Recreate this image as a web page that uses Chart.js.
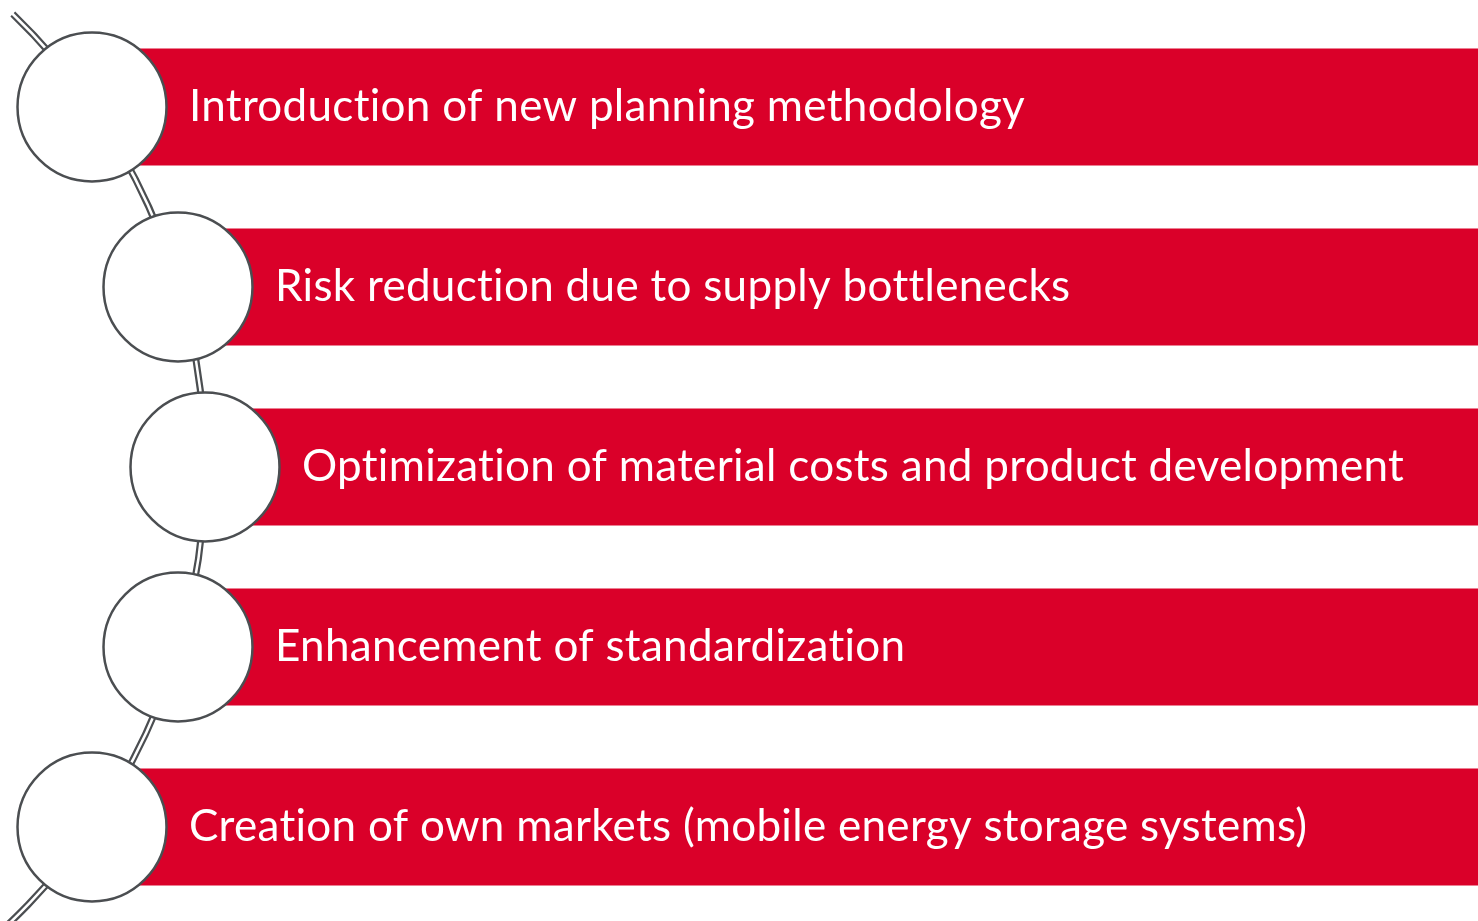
<!DOCTYPE html>
<html>
<head>
<meta charset="utf-8">
<title>Vertical curved list</title>
<script src="https://cdn.jsdelivr.net/npm/chart.js@4.4.1/dist/chart.umd.min.js"></script>
<style>
    html, body { margin: 0; padding: 0; background: #ffffff; }
    #wrap { width: 1478px; height: 921px; position: relative; }
</style>
</head>
<body>
<div id="wrap"><canvas id="listChart"></canvas></div>
<script>
// Items of the list, top to bottom
const steps = [
    'Introduction of new planning methodology',
    'Risk reduction due to supply bottlenecks',
    'Optimization of material costs and product development',
    'Enhancement of standardization',
    'Creation of own markets (mobile energy storage systems)'
];
// Where each bar begins (the centre of its circle)
const barFrom = [92, 178, 205, 178, 92];
const barTo = [1478, 1478, 1478, 1478, 1478];

const RED = '#DA0029';
const GREY = '#4b4e51';

// Draws the curved double line, the circles and the labels
const curvedListPlugin = {
    id: 'curvedList',
    beforeDatasetsDraw(chart) {
        const ctx = chart.ctx;
        const x = chart.scales.x, y = chart.scales.y;
        // circle through first, middle and last node
        const p1 = { x: x.getPixelForValue(barFrom[0]), y: y.getPixelForValue(0) };
        const mid = Math.floor(barFrom.length / 2);
        const pm = { x: x.getPixelForValue(barFrom[mid]), y: y.getPixelForValue(mid) };
        const cy = pm.y;
        const cx = (p1.x * p1.x + (p1.y - cy) * (p1.y - cy) - pm.x * pm.x) / (2 * (p1.x - pm.x));
        const r = pm.x - cx;
        const top = Math.asin((14 - cy) / r);
        const bottom = Math.asin((chart.height + 10 - cy) / r);
        ctx.save();
        ctx.lineCap = 'butt';
        ctx.beginPath();
        ctx.arc(cx, cy, r, top, bottom);
        ctx.strokeStyle = GREY;
        ctx.lineWidth = 7;
        ctx.stroke();
        ctx.beginPath();
        ctx.arc(cx, cy, r, top - 0.004, bottom);
        ctx.strokeStyle = '#ffffff';
        ctx.lineWidth = 2.5;
        ctx.stroke();
        ctx.restore();
    },
    afterDatasetsDraw(chart) {
        const ctx = chart.ctx;
        const meta = chart.getDatasetMeta(0);
        ctx.save();
        meta.data.forEach((bar, i) => {
            const cx = bar.base;
            const cy = bar.y;
            ctx.beginPath();
            ctx.arc(cx, cy, 74.5, 0, Math.PI * 2);
            ctx.fillStyle = '#ffffff';
            ctx.fill();
            ctx.lineWidth = 2.5;
            ctx.strokeStyle = GREY;
            ctx.stroke();

            ctx.fillStyle = '#ffffff';
            ctx.font = '44px Lato, "Open Sans", sans-serif';
            ctx.letterSpacing = '0.3px';   // also keeps Lato from joining "ti"
            ctx.textBaseline = 'middle';
            ctx.textAlign = 'left';
            ctx.fillText(steps[i], cx + 97, cy);
        });
        ctx.restore();
    }
};

const ctx = document.getElementById('listChart').getContext('2d');
new Chart(ctx, {
    type: 'bar',
    data: {
        labels: steps,
        datasets: [{
            data: barFrom.map((v, i) => [v, barTo[i]]),
            backgroundColor: RED,
            borderWidth: 0,
            borderSkipped: false,
            categoryPercentage: 1,
            barPercentage: 0.65
        }]
    },
    options: {
        indexAxis: 'y',
        responsive: true,
        maintainAspectRatio: false,
        animation: false,
        layout: { padding: { top: 17, bottom: 4, left: 0, right: 0 } },
        scales: {
            x: { type: 'linear', min: 0, max: 1478, display: false },
            y: { display: false, offset: true }
        },
        plugins: {
            legend: { display: false },
            tooltip: { enabled: false }
        }
    },
    plugins: [curvedListPlugin]
});
</script>
</body>
</html>
